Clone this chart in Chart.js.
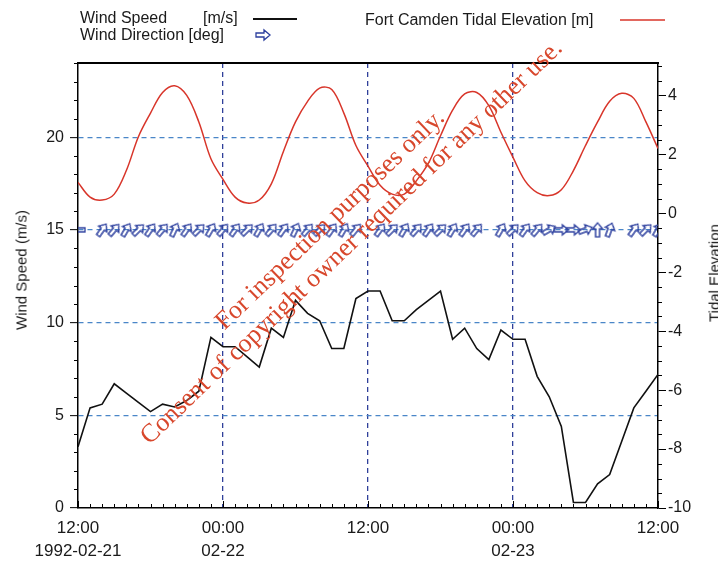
<!DOCTYPE html>
<html>
<head>
<meta charset="utf-8">
<script src="https://cdn.jsdelivr.net/npm/chart.js@4.4.1/dist/chart.umd.min.js"></script>
<style>
  html, body { margin: 0; padding: 0; background: #fff; }
  #wrap { position: relative; width: 718px; height: 561px; overflow: hidden; font-family: "Liberation Sans", Arial, sans-serif; color: #1a1a1a; }
  #wrap canvas { position: absolute; left: 0; top: 0; }
  .txt { position: absolute; white-space: nowrap; font-size: 16px; line-height: 16px; }
  .vtitle { position: absolute; white-space: nowrap; font-size: 15px; line-height: 15px; transform: translate(-50%, -50%) rotate(-90deg); }
  #stamp {
    position: absolute; left: 340px; top: 230px;
    transform: translate(-50%, -50%) rotate(-43.7deg);
    font-family: "Liberation Serif", "Times New Roman", serif; font-size: 26px; line-height: 31px;
    color: #d8472c; text-align: center; white-space: nowrap; pointer-events: none;
  }
</style>
</head>
<body>
<div id="wrap">
  <canvas id="chart" width="718" height="561"></canvas>
  <div class="txt" style="left:80px; top:10px;">Wind Speed</div>
  <div class="txt" style="left:203px; top:10px;">[m/s]</div>
  <div class="txt" style="left:80px; top:27px;">Wind Direction [deg]</div>
  <div class="txt" style="left:365px; top:12px;">Fort Camden Tidal Elevation [m]</div>
  <div class="vtitle" style="left:21px; top:270px;">Wind Speed (m/s)</div>
  <div class="vtitle" style="left:714px; top:273px;">Tidal Elevation</div>
  <div id="stamp">For inspection purposes only.<br>Consent of copyright owner required for any other use.</div>
</div>
<script>
// hours after 1992-02-21 12:00
const hours = Array.from({ length: 49 }, (_, i) => i);

const windSpeed = [3.3, 5.4, 5.6, 6.7, 6.2, 5.7, 5.2, 5.6, 5.45, 5.8, 6.3, 9.2, 8.7, 8.7, 8.15, 7.6,
    9.7, 9.2, 11.2, 10.5, 10.1, 8.6, 8.6, 11.3, 11.7, 11.7, 10.1, 10.1, 10.7, 11.2, 11.7, 9.1,
    9.7, 8.6, 8.0, 9.6, 9.1, 9.1, 7.1, 6.0, 4.4, 0.3, 0.3, 1.3, 1.8, 3.6, 5.4, 6.3, 7.2];

const tide = [1.05, 0.55, 0.45, 0.65, 1.45, 2.6, 3.4, 4.1, 4.33, 4.0, 3.1, 1.85, 1.15, 0.55, 0.35, 0.45,
    1.0, 2.1, 3.1, 3.8, 4.25, 4.2, 3.4, 2.3, 1.6, 0.95, 0.65, 0.65, 1.1, 1.7, 2.63, 3.5,
    4.05, 4.1, 3.65, 2.75, 1.9, 1.1, 0.7, 0.6, 0.8, 1.45, 2.3, 3.1, 3.8, 4.07, 3.9, 3.1, 2.2];

// direction the wind comes from (deg), null = missing
const windDir = [90, null, 215, 220, 210, 225, 215, 220, 205, 215, 225, 210, 220, 215, 225, 210,
    220, 215, 205, 220, 225, 215, 210, 220, null, 215, 225, 210, 220, 215, 225, 210,
    215, 220, null, 210, 225, 215, 220, 240, 270, 270, 250, 180, 200, null, 215, 225, 210];

const dirRow = 15; // wind direction drawn along this wind speed level

const xTimes = ['12:00', '00:00', '12:00', '00:00', '12:00'];
const xDates = ['1992-02-21', '02-22', '', '02-23', ''];

function makeArrow(color) {
    const c = document.createElement('canvas');
    c.width = 18;
    c.height = 14;
    const g = c.getContext('2d');
    g.strokeStyle = color;
    g.lineWidth = 1.3;
    g.beginPath();
    g.moveTo(2, 5); g.lineTo(10, 5); g.lineTo(10, 2); g.lineTo(16, 7);
    g.lineTo(10, 12); g.lineTo(10, 9); g.lineTo(2, 9); g.closePath();
    g.stroke();
    return c;
}
const arrowImg = makeArrow('#2c3f9e');

const tickFont = { family: '"Liberation Sans", Arial, sans-serif', size: 16 };

const extras = {
    id: 'extras',
    afterDraw(chart) {
        const { ctx, chartArea: a, scales } = chart;
        ctx.save();
        ctx.strokeStyle = '#000';
        ctx.lineWidth = 1;
        ctx.beginPath();
        for (let v = 0; v <= 24; v++) {
            if (v % 5 === 0) continue;
            const y = Math.round(scales.y.getPixelForValue(v)) + 0.5;
            ctx.moveTo(a.left - 4, y); ctx.lineTo(a.left, y);
        }
        for (let v = -10; v <= 5; v += 0.5) {
            if (v % 2 === 0) continue;
            const y = Math.round(scales.yTide.getPixelForValue(v)) + 0.5;
            ctx.moveTo(a.right, y); ctx.lineTo(a.right + 4, y);
        }
        for (let h = 0; h <= 48; h++) {
            const x = Math.round(scales.x.getPixelForValue(h)) + 0.5;
            const len = h % 12 === 0 ? 7 : 4;
            ctx.moveTo(x, a.bottom); ctx.lineTo(x, a.bottom - len);
        }
        ctx.stroke();

        // top frame
        ctx.lineWidth = 2;
        ctx.beginPath();
        ctx.moveTo(a.left, a.top); ctx.lineTo(a.right + 1, a.top);
        ctx.stroke();

        // legend samples
        ctx.lineWidth = 2;
        ctx.strokeStyle = '#111';
        ctx.beginPath(); ctx.moveTo(253, 19); ctx.lineTo(297, 19); ctx.stroke();
        ctx.strokeStyle = '#d8352a';
        ctx.lineWidth = 1.5;
        ctx.beginPath(); ctx.moveTo(620, 20); ctx.lineTo(665, 20); ctx.stroke();
        ctx.drawImage(arrowImg, 254, 28);
        ctx.restore();
    }
};

new Chart(document.getElementById('chart'), {
    type: 'line',
    data: {
        datasets: [
            {
                label: 'Fort Camden Tidal Elevation [m]',
                data: hours.map((h, i) => ({ x: h, y: tide[i] })),
                yAxisID: 'yTide',
                borderColor: '#d8352a',
                borderWidth: 1.5,
                pointRadius: 0,
                tension: 0.35
            },
            {
                label: 'Wind Direction [deg]',
                data: hours.map((h, i) => ({ x: h, y: windDir[i] === null ? null : dirRow })),
                yAxisID: 'y',
                showLine: false,
                pointStyle: arrowImg,
                pointRotation: windDir.map(d => (d === null ? 0 : d + 90)),
                pointRadius: 6
            },
            {
                label: 'Wind Speed [m/s]',
                data: hours.map((h, i) => ({ x: h, y: windSpeed[i] })),
                yAxisID: 'y',
                borderColor: '#111',
                borderWidth: 1.6,
                pointRadius: 0,
                tension: 0
            }
        ]
    },
    options: {
        responsive: false,
        animation: false,
        layout: { padding: { top: 63, left: 0, right: 0, bottom: 0 } },
        plugins: { legend: { display: false }, tooltip: { enabled: false } },
        scales: {
            x: {
                type: 'linear',
                min: 0,
                max: 48,
                afterFit: s => { s.height = 53; },
                ticks: {
                    stepSize: 12,
                    padding: 8,
                    maxRotation: 0,
                    color: '#1a1a1a',
                    font: { ...tickFont, size: 17, lineHeight: 1.4 },
                    callback: v => {
                        const i = Math.round(v / 12);
                        return xDates[i] ? [xTimes[i], xDates[i]] : xTimes[i];
                    }
                },
                grid: {
                    drawTicks: false,
                    color: c => (c.tick && (c.tick.value === 0 || c.tick.value === 48) ? 'rgba(0,0,0,0)' : '#30409a'),
                    lineWidth: 1.3
                },
                border: { display: true, color: '#000', width: 1.5, dash: [5, 4] }
            },
            y: {
                position: 'left',
                min: 0,
                max: 24,
                afterFit: s => { s.width = 78; },
                ticks: { stepSize: 5, includeBounds: false, padding: 6, color: '#1a1a1a', font: tickFont },
                grid: {
                    color: c => (c.tick && c.tick.value === 0 ? 'rgba(0,0,0,0)' : '#4a86c8'),
                    lineWidth: 1.3,
                    tickLength: 8,
                    tickColor: '#000',
                    tickWidth: 1
                },
                border: { display: true, color: '#000', width: 1.5, dash: [5, 4] }
            },
            yTide: {
                position: 'right',
                min: -10,
                max: 5.1,
                afterFit: s => { s.width = 60; },
                ticks: { stepSize: 2, includeBounds: false, padding: 2, color: '#1a1a1a', font: tickFont },
                grid: { drawOnChartArea: false, tickLength: 8, tickColor: '#000', tickWidth: 1 },
                border: { display: true, color: '#000', width: 1.5 }
            }
        }
    },
    plugins: [extras]
});
</script>
</body>
</html>
